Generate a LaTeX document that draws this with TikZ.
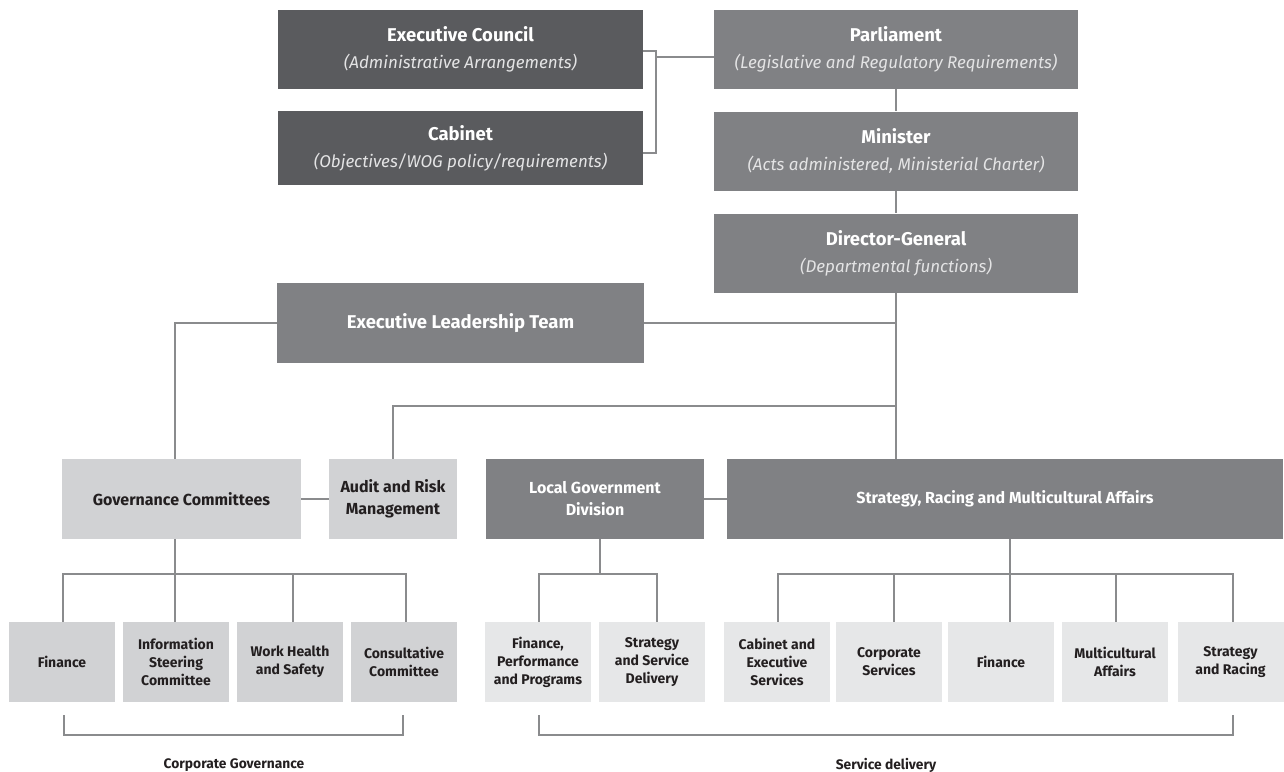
\documentclass[tikz,border=0pt]{standalone}
\usepackage{fontspec}
\setmainfont{Fira Sans}
\definecolor{cdark}{HTML}{5A5B5E}
\definecolor{cmid}{HTML}{808184}
\definecolor{clight}{HTML}{D1D2D4}
\definecolor{cpale}{HTML}{E6E7E8}
\definecolor{cline}{HTML}{8A8B8D}
\definecolor{csub}{HTML}{E4E4E5}
\definecolor{ctext}{HTML}{231F20}
\newcommand\mysub[1]{{\fontsize{17}{27}\selectfont\mdseries\itshape\color{csub}#1}}
\begin{document}
\begin{tikzpicture}[x=1pt,y=-1pt,
  box/.style={inner sep=0pt, align=center, anchor=center},
  darkbox/.style={box, fill=cdark, text=white, font=\fontsize{18.5}{27}\selectfont\bfseries},
  midbox/.style={box, fill=cmid, text=white, font=\fontsize{18.5}{27}\selectfont\bfseries},
  headbox/.style={box, fill=cmid, text=white, font=\fontsize{16}{22}\selectfont\bfseries, minimum height=80pt},
  govbox/.style={box, fill=clight, text=ctext, font=\fontsize{16}{22}\selectfont\bfseries, minimum height=80pt},
  kidgov/.style={box, fill=clight, text=ctext, font=\fontsize{14}{18}\selectfont\bfseries, minimum width=106pt, minimum height=80pt},
  kidsvc/.style={box, fill=cpale, text=ctext, font=\fontsize{14}{18}\selectfont\bfseries, minimum width=106pt, minimum height=80pt},
  grouplabel/.style={inner sep=0pt, text=ctext, font=\fontsize{13.8}{16}\selectfont\bfseries},
  conn/.style={draw=cline, line width=1.2pt}]
\useasboundingbox (0,0) rectangle (1284,771);

% top tier
\node[darkbox, minimum width=365pt, minimum height=79pt] (ec) at (460.5,49.5)
  {Executive Council\\\mysub{(Administrative Arrangements)}};
\node[darkbox, minimum width=365pt, minimum height=74pt] (cab) at (460.5,148)
  {Cabinet\\\mysub{(Objectives/WOG policy/requirements)}};
\node[midbox, minimum width=364pt, minimum height=79pt] (parl) at (896,49.5)
  {Parliament\\\mysub{(Legislative and Regulatory Requirements)}};
\node[midbox, minimum width=364pt, minimum height=79pt] (min) at (896,151)
  {Minister\\\mysub{(Acts administered, Ministerial Charter)}};
\node[midbox, minimum width=364pt, minimum height=79pt] (dg) at (896,253)
  {Director-General\\\mysub{(Departmental functions)}};
\node[midbox, minimum width=367pt, minimum height=80pt] (elt) at (460.5,323)
  {Executive Leadership Team};

% second tier
\node[govbox, minimum width=239pt] (gov) at (181.5,499) {Governance Committees};
\node[govbox, minimum width=128pt] (aud) at (393,499) {Audit and Risk\\Management};
\node[headbox, minimum width=218pt] (lgd) at (595,499) {Local Government\\Division};
\node[headbox, minimum width=556pt] (srma) at (1005,499) {Strategy, Racing and Multicultural Affairs};

% children
\node[kidgov] (g1) at (62,662) {Finance};
\node[kidgov] (g2) at (176,662) {Information\\Steering\\Committee};
\node[kidgov] (g3) at (290,662) {Work Health\\and Safety};
\node[kidgov] (g4) at (404,662) {Consultative\\Committee};
\node[kidsvc] (l1) at (538,662) {Finance,\\Performance\\and Programs};
\node[kidsvc] (l2) at (652,662) {Strategy\\and Service\\Delivery};
\node[kidsvc] (s1) at (777,662) {Cabinet and\\Executive\\Services};
\node[kidsvc] (s2) at (889,662) {Corporate\\Services};
\node[kidsvc] (s3) at (1001,662) {Finance};
\node[kidsvc] (s4) at (1115,662) {Multicultural\\Affairs};
\node[kidsvc] (s5) at (1230.5,662) {Strategy\\and Racing};

% group labels
\node[grouplabel] (cglab) at (234,765) {Corporate Governance};
\node[grouplabel] (sdlab) at (886,765) {Service delivery};

% helper coordinates
\coordinate (bt) at (656,51);
\coordinate (bb) at (656,153);
\coordinate (bm) at (656,57);
\coordinate (hb) at (0,574);
\coordinate (ha) at (0,406);
\coordinate (gx) at (175,0);
\coordinate (cgl) at (64,715);
\coordinate (cgr) at (403,715);
\coordinate (sdl) at (539,715);
\coordinate (sdr) at (1233,715);

% top connectors
\draw[conn] (ec.east |- bt) -- (bt) -- (bb) -- (cab.east |- bb);
\draw[conn] (bm) -- (parl.west |- bm);
\draw[conn] (parl.south) -- (min.north);
\draw[conn] (min.south) -- (dg.north);
\draw[conn] (dg.south) -- (dg.south |- srma.north);
\draw[conn] (elt.east) -- (elt.east -| dg.south);
\draw[conn] (elt.west) -| (gx |- gov.north);
\draw[conn] (dg.south |- ha) -| (aud.north);
\draw[conn] (gov.east) -- (aud.west);
\draw[conn] (lgd.east) -- (srma.west);

% governance children
\draw[conn] (gx |- gov.south) -- (gx |- hb);
\draw[conn] ([xshift=1pt]g1.north) -- ([xshift=1pt]g1.north |- hb) -- ([xshift=2pt]g4.north |- hb) -- ([xshift=2pt]g4.north);
\draw[conn] ([xshift=-1pt]g2.north) -- ([xshift=-1pt]g2.north |- hb);
\draw[conn] ([xshift=3pt]g3.north) -- ([xshift=3pt]g3.north |- hb);

% local government children
\draw[conn] ([xshift=5pt]lgd.south) -- ([xshift=5pt]lgd.south |- hb);
\draw[conn] ([xshift=1pt]l1.north) -- ([xshift=1pt]l1.north |- hb) -- ([xshift=5pt]l2.north |- hb) -- ([xshift=5pt]l2.north);

% strategy children
\draw[conn] ([xshift=5pt]srma.south) -- ([xshift=5pt]srma.south |- hb);
\draw[conn] ([xshift=1pt]s1.north) -- ([xshift=1pt]s1.north |- hb) -- ([xshift=2.5pt]s5.north |- hb) -- ([xshift=2.5pt]s5.north);
\draw[conn] ([xshift=5pt]s2.north) -- ([xshift=5pt]s2.north |- hb);
\draw[conn] ([xshift=9pt]s3.north) -- ([xshift=9pt]s3.north |- hb);
\draw[conn] ([xshift=1pt]s4.north) -- ([xshift=1pt]s4.north |- hb);

% group brackets
\draw[conn] (cgl) -- ++(0,20) -| (cgr);
\draw[conn] (sdl) -- ++(0,20) -| (sdr);
\end{tikzpicture}
\end{document}
